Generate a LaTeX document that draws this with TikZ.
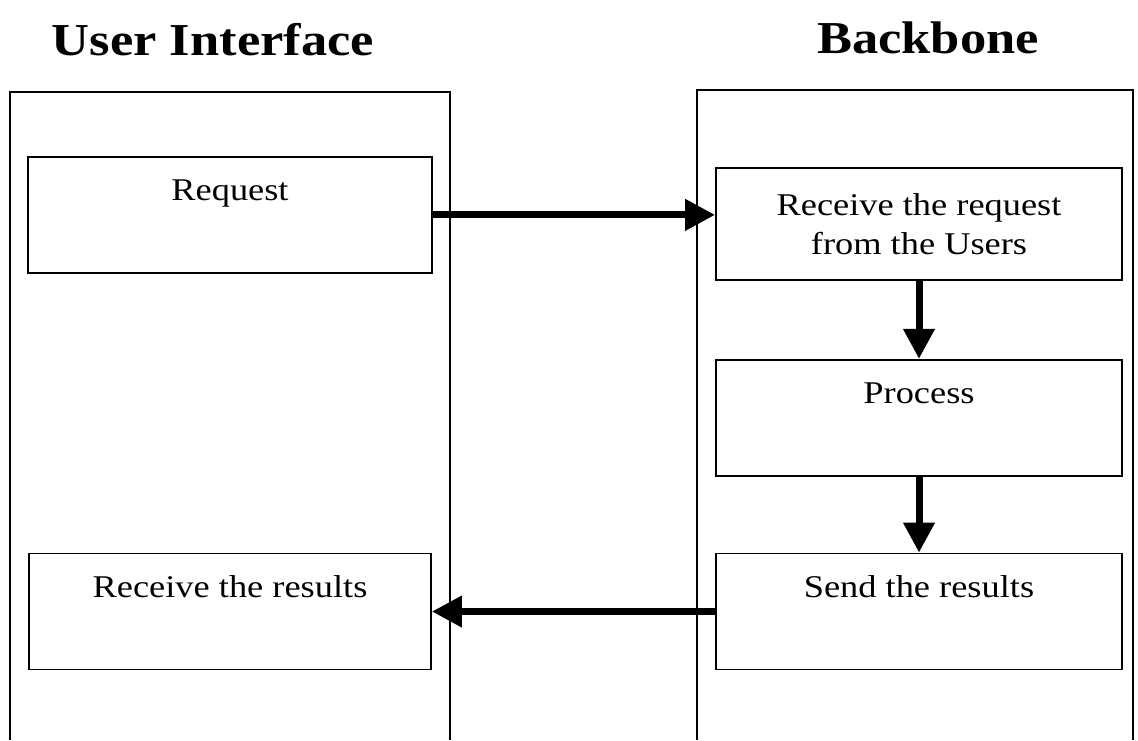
\documentclass[tikz,border=0pt]{standalone}
\usepackage{fontspec}
\setmainfont{Liberation Serif}[FakeStretch=1.15]
\usepackage{tikz}
\usetikzlibrary{arrows.meta,positioning}

\begin{document}
\begin{tikzpicture}[every node/.style={font=\fontsize{18}{20}\selectfont},
    lane/.style={line width=0.8pt},
    box/.style={rectangle, draw, line width=1pt, inner sep=0pt,
                minimum width=8.1cm, minimum height=2.3cm, align=center},
    topbox/.style={box, text height=0.88cm, text depth=1.44cm},
    title/.style={font=\fontsize{26}{28}\selectfont\bfseries},
    arr/.style={-{Triangle[length=0.6cm, width=0.6cm]}, line width=4pt}]

    \useasboundingbox (0,0) rectangle (22.76,-14.8);

    %% Lane headings
    \node[title] (uihead) at (4.26,-0.8) {User Interface};
    \node[title] (bbhead) at (18.56,-0.76) {Backbone};

    %% Lanes, open at the bottom
    \draw[lane] (0.2,-14.8) |- (9.0,-1.84) -- (9.0,-14.8);
    \draw[lane] (13.94,-14.8) |- (22.66,-1.8) -- (22.66,-14.8);

    %% User Interface side
    \node[topbox, minimum width=8.08cm, anchor=north] (req) at (4.6,-3.12) {Request};

    %% Backbone side
    \node[box, minimum width=8.12cm, minimum height=2.24cm] (recv) at (18.38,-4.48)
      {Receive the request\\[2pt]from the Users};
    \node[topbox, minimum width=8.12cm, below=1.56cm of recv.south, anchor=north] (proc)
      {Process};
    \node[topbox, minimum width=8.12cm, below=1.52cm of proc.south, anchor=north] (send)
      {Send the results};

    \node[topbox, minimum width=8.04cm, anchor=north] (res) at (req.center |- send.north)
      {Receive the results};

    %% Arrows
    \draw[arr] (req.east) -- (req.east -| recv.west);
    \draw[arr] (recv.south) -- (proc.north);
    \draw[arr] (proc.south) -- (send.north);
    \draw[arr] (send.west) -- (send.west -| res.east);
\end{tikzpicture}
\end{document}
